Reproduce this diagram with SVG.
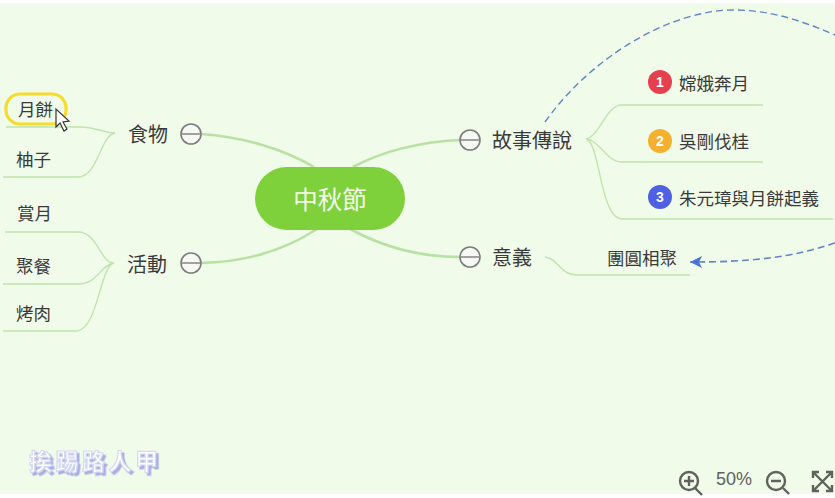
<svg xmlns="http://www.w3.org/2000/svg" width="835" height="498" viewBox="0 0 835 498">
<style>
text{font-family:"Noto Sans CJK TC","Noto Sans CJK SC",sans-serif;fill:#3a3a3a;dominant-baseline:central}
.m{font-size:20px}.s{font-size:17.5px}
.main{fill:none;stroke:#b7e2a4;stroke-width:2.6}
.sub{fill:none;stroke:#bfe5ad;stroke-width:1.4}
.c{fill:#f6f8f4;stroke:#7c7c7c;stroke-width:1.6}
.b{font-size:14px;font-weight:700;fill:#fff;text-anchor:middle;font-family:"Liberation Sans",sans-serif}
.ui{fill:none;stroke:#5f625d;stroke-width:2.4}
</style>
<defs>
<marker id="ah" markerWidth="13" markerHeight="12" refX="12" refY="6" orient="auto" markerUnits="userSpaceOnUse"><path d="M0 0L12 6L0 12L3 6Z" fill="#4a72dc"/></marker>
<filter id="wm" x="-10%" y="-30%" width="120%" height="160%"><feDropShadow dx="2.5" dy="2.5" stdDeviation="0.4" flood-color="#a9afe4"/></filter>
</defs>
<rect width="835" height="498" fill="#fff"/>
<rect y="3" width="835" height="491" fill="#f1fbea"/>
<g id="connectors">
<path class="main" d="M314 167C285 150 245 137 201 134"/>
<path class="main" d="M317 229C285 250 245 262 201 263"/>
<path class="main" d="M353 167C385 150 420 142 460 140"/>
<path class="main" d="M350 229C385 248 420 257 460 257"/>
<path class="sub" d="M115 133C105 133 95 127 80 127H6"/>
<path class="sub" d="M115 133C100 136 98 177 78 177H3"/>
<path class="sub" d="M114 263C100 263 98 232 78 232H5"/>
<path class="sub" d="M114 263C100 265 98 284 78 284H3"/>
<path class="sub" d="M114 263C100 265 98 331 76 331H3"/>
<path class="sub" d="M586 139C600 136 606 105 622 105H763"/>
<path class="sub" d="M586 139C600 140 606 162 622 162H763"/>
<path class="sub" d="M586 139C600 142 600 219 622 219H833"/>
<path class="sub" d="M545 257C558 258 560 275 577 275H690"/>
<path d="M545 122C595 52 675 10 733 10C770 10 800 20 835 35" fill="none" stroke="#5f86c4" stroke-width="1.4" stroke-dasharray="7 4"/>
<path d="M835 243C790 258 750 262 690 262" fill="none" stroke="#5f86c4" stroke-width="1.6" stroke-dasharray="7 4" marker-end="url(#ah)"/>
</g>
<g id="root"><rect x="255" y="167" width="150" height="63" rx="31.5" fill="#7fd13b"/><text x="330" y="198" font-size="24.5" text-anchor="middle" style="fill:#f4fbee">中秋節</text></g>
<g id="food"><text class="m" x="128" y="133">食物</text><circle class="c" cx="191" cy="134" r="10"/><path d="M182 134H200" stroke="#7c7c7c" stroke-width="1.4"/></g>
<g id="activity"><text class="m" x="127" y="263">活動</text><circle class="c" cx="191" cy="263" r="10"/><path d="M182 263H200" stroke="#7c7c7c" stroke-width="1.4"/></g>
<g id="story"><circle class="c" cx="470" cy="140" r="10"/><path d="M461 140H479" stroke="#7c7c7c" stroke-width="1.4"/><text class="m" x="492" y="139.500">故事傳說</text></g>
<g id="meaning"><circle class="c" cx="470" cy="257" r="10"/><path d="M461 257H479" stroke="#7c7c7c" stroke-width="1.4"/><text class="m" x="492" y="256.500">意義</text></g>
<g id="mooncake"><rect x="6" y="94" width="60" height="30" rx="14" fill="none" stroke="#f5dc2d" stroke-width="3.200"/><text class="s" x="18" y="108.500">月餅</text></g>
<g id="pomelo"><text class="s" x="16" y="158.500">柚子</text></g>
<g id="moon"><text class="s" x="17" y="212.500">賞月</text></g>
<g id="feast"><text class="s" x="16" y="265.500">聚餐</text></g>
<g id="bbq"><text class="s" x="16" y="312.500">烤肉</text></g>
<g id="s1"><circle cx="660" cy="82" r="12" fill="#e5404d"/><text class="b" x="660" y="81.500">1</text><text class="s" x="679" y="82.500">嫦娥奔月</text></g>
<g id="s2"><circle cx="660" cy="141" r="12" fill="#f4b02e"/><text class="b" x="660" y="140.500">2</text><text class="s" x="679" y="140.500">吳剛伐桂</text></g>
<g id="s3"><circle cx="660" cy="197" r="12" fill="#4f60e3"/><text class="b" x="660" y="196.500">3</text><text class="s" x="679" y="197">朱元璋與月餅起義</text></g>
<g id="unity"><text class="s" x="607" y="257.500">團圓相聚</text></g>
<path id="cursor" d="M56 109V127L60 123L64 131L67 129L63 122L69 121Z" fill="#fff" stroke="#333" stroke-width="1.200"/>
<g id="watermark">
<text x="29" y="460" font-size="23" font-weight="700" letter-spacing="3.500" filter="url(#wm)" style="fill:#fff;stroke:#d4d8f2;stroke-width:1.200">挨踢路人甲</text>
</g>
<g id="zoom-controls">
<circle class="ui" cx="689" cy="481" r="9"/><path class="ui" d="M695 488L702 495M684 481H694M689 476V486"/>
<text x="716" y="479" font-size="18" style="fill:#5f625d;font-family:'Liberation Sans',sans-serif">50%</text>
<circle class="ui" cx="776" cy="481" r="9"/><path class="ui" d="M783 488L789 494M771 481H781"/>
<path class="ui" d="M813 478V472H819M826 472H832V478M813 485V491H819M832 485V491H826M814 473L831 490M831 473L814 490"/>
</g>
</svg>
